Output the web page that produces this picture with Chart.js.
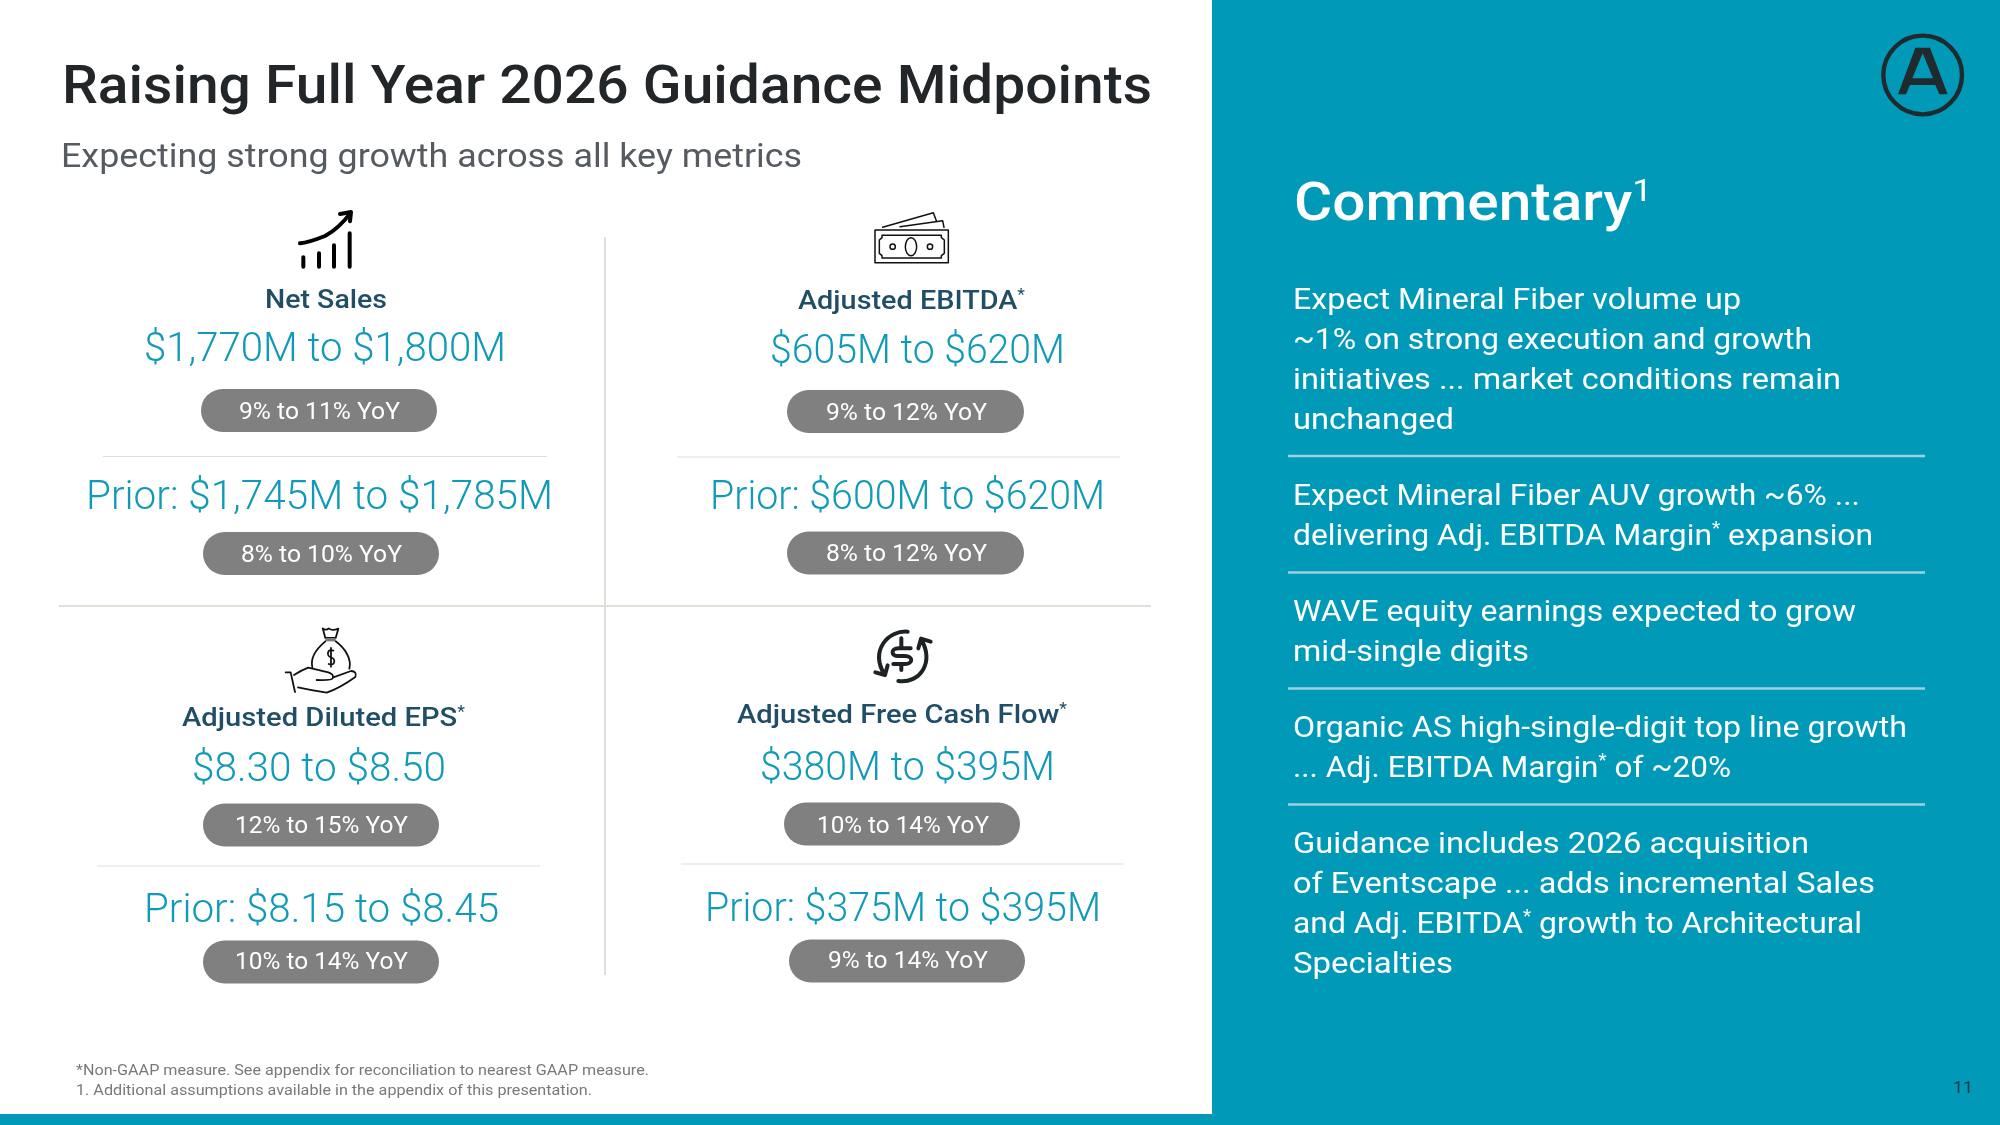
<!DOCTYPE html>
<html lang="en">
<head>
    <meta charset="UTF-8">
    <title>Raising Full Year 2026 Guidance Midpoints</title>
    <script src="https://cdn.jsdelivr.net/npm/chart.js@4"></script>
    <style>
        html, body { margin: 0; padding: 0; background: #fff; }
        canvas { display: block; }
    </style>
</head>
<body>
    <canvas id="slide" width="2000" height="1125"></canvas>

    <script>
        // ^x marks a superscript character
        const slideTitle = 'Raising Full Year 2026 Guidance Midpoints';
        const slideSubtitle = 'Expecting strong growth across all key metrics';
        const metricNames = ['Net Sales', 'Adjusted EBITDA^*', 'Adjusted Diluted EPS^*', 'Adjusted Free Cash Flow^*'];
        const guidanceRanges = ['$1,770M to $1,800M', '$605M to $620M', '$8.30 to $8.50', '$380M to $395M'];
        const guidanceYoY = ['9% to 11% YoY', '9% to 12% YoY', '12% to 15% YoY', '10% to 14% YoY'];
        const priorRanges = ['Prior: $1,745M to $1,785M', 'Prior: $600M to $620M', 'Prior: $8.15 to $8.45', 'Prior: $375M to $395M'];
        const priorYoY = ['8% to 10% YoY', '8% to 12% YoY', '10% to 14% YoY', '9% to 14% YoY'];
        const commentaryTitle = 'Commentary^1';
        const commentaryLines = [
            'Expect Mineral Fiber volume up',
            '~1% on strong execution and growth',
            'initiatives ... market conditions remain',
            'unchanged',
            'Expect Mineral Fiber AUV growth ~6% ...',
            'delivering Adj. EBITDA Margin^* expansion',
            'WAVE equity earnings expected to grow',
            'mid-single digits',
            'Organic AS high-single-digit top line growth',
            '... Adj. EBITDA Margin^* of ~20%',
            'Guidance includes 2026 acquisition',
            'of Eventscape ... adds incremental Sales',
            'and Adj. EBITDA^* growth to Architectural',
            'Specialties'
        ];
        const footnotes = [
            '*Non-GAAP measure. See appendix for reconciliation to nearest GAAP measure.',
            '1. Additional assumptions available in the appendix of this presentation.'
        ];
        const pageNumber = '11';

        // layout, in slide pixels: [left, right, baseline]
        const nameBoxes = [[265, 387, 308], [798, 1025, 309], [182, 465, 726], [737, 1067, 723]];
        const valueBoxes = [[144, 506, 361], [770, 1065, 363], [192, 446, 781], [760, 1055, 780]];
        const yoyBoxes = [[239, 400, 419], [826, 987, 420], [235, 408, 833], [817, 989, 833]];
        const priorBoxes = [[86, 553, 509], [710, 1105, 509], [144, 499, 922], [705, 1101, 921]];
        const priorYoyBoxes = [[241, 402, 562], [826, 987, 561], [235, 408, 969], [828, 988, 968]];
        // [left, right, centre y]
        const pillBoxes = [
            [201, 437, 410.5], [787, 1024, 411.5], [203, 439, 825], [784, 1020, 824],
            [203, 439, 553.5], [787, 1024, 553], [203, 439, 962], [789, 1025, 961]
        ];
        const pillHeight = 43;
        // [x0, y0, x1, y1, width]
        const ruleBoxes = [
            [605, 237, 605, 975, 2], [59, 606, 1151, 606, 2],
            [103, 456.5, 547, 456.5, 1], [677, 457, 1120, 457, 1],
            [97, 866, 540, 866, 1], [681, 864, 1124, 864, 1]
        ];
        const commentaryRuleYs = [456, 572.5, 688.5, 804.5];
        const commentaryBoxes = [
            [1293, 1741, 309], [1293, 1812, 349], [1293, 1841, 389], [1293, 1454, 429],
            [1293, 1860, 505], [1293, 1873, 545],
            [1293, 1856, 621], [1293, 1529, 661],
            [1293, 1907, 737], [1293, 1731, 777],
            [1293, 1809, 853], [1293, 1875, 893], [1293, 1862, 933], [1293, 1453, 973]
        ];

        const TEAL = '#0099b8';
        const VALUE_TEAL = '#109ab7';
        const FONT = 'Roboto, "Open Sans", sans-serif';

        function splitRuns(text) {
            return text.split(/(\^.)/).filter(s => s).map(s =>
                s[0] === '^' ? { text: s[1], sup: true } : { text: s, sup: false });
        }

        // draw a string so that it fills [x0, x1] on the given baseline
        function fitText(ctx, text, box, size, weight, color) {
            const [x0, x1, base] = box;
            const runs = splitRuns(text);
            const mainFont = `${weight} ${size}px ${FONT}`;
            const supFont = `400 ${Math.round(size * 0.6)}px ${FONT}`;
            let total = 0;
            runs.forEach(r => {
                ctx.font = r.sup ? supFont : mainFont;
                total += ctx.measureText(r.text).width;
            });
            ctx.save();
            ctx.translate(x0, base);
            ctx.scale((x1 - x0) / total, 1);
            ctx.fillStyle = color;
            ctx.textAlign = 'left';
            ctx.textBaseline = 'alphabetic';
            let x = 0;
            runs.forEach(r => {
                ctx.font = r.sup ? supFont : mainFont;
                ctx.fillText(r.text, x, r.sup ? -size * 0.36 : 0);
                x += ctx.measureText(r.text).width;
            });
            ctx.restore();
        }

        // icons are traced at 3x around their crop origin
        function icon(ctx, ox, oy, lineWidth, color, draw) {
            ctx.save();
            ctx.translate(ox, oy);
            ctx.scale(1 / 3, 1 / 3);
            ctx.lineWidth = lineWidth * 3;
            ctx.strokeStyle = color;
            ctx.fillStyle = color;
            ctx.lineCap = 'round';
            ctx.lineJoin = 'round';
            draw();
            ctx.restore();
        }

        function strokePath(ctx, d) {
            ctx.stroke(new Path2D(d));
        }

        function drawIcons(ctx) {
            // rising bars
            icon(ctx, 270, 200, 4, '#000', () => {
                strokePath(ctx, 'M100,172 V200 M147,160 V200 M192,136 V200 M239,100 V200');
                strokePath(ctx, 'M90,130 C115,128 140,118 165,108 C195,92 222,65 243,37 M210,42 L243,36 L240,64');
            });
            // bank notes
            icon(ctx, 860, 200, 1.5, '#111', () => {
                strokePath(ctx, 'M45,90 H265 V188 H45 Z');
                strokePath(ctx, 'M66,106 H244 L244,113 L253,120 V160 L244,167 V174 H66 V167 L58,160 V120 L66,113 Z');
                strokePath(ctx, 'M68,82 L220,38 L229,62 M120,80 L248,62 L252,82');
                ctx.beginPath(); ctx.ellipse(153, 140, 17, 27, 0, 0, 7); ctx.stroke();
                ctx.beginPath(); ctx.arc(98, 140, 8, 0, 7); ctx.stroke();
                ctx.beginPath(); ctx.arc(210, 140, 8, 0, 7); ctx.stroke();
            });
            // money bag in a hand
            icon(ctx, 270, 620, 1.8, '#111', () => {
                strokePath(ctx, 'M166,54 L158,25 Q168,33 176,25 Q186,34 205,26 L197,54 Z');
                ctx.fillStyle = '#777';
                ctx.fillRect(166, 54, 31, 10);
                strokePath(ctx, 'M166,64 C142,84 120,112 127,142 M197,64 C224,84 246,116 238,146');
                strokePath(ctx, 'M190,92 C172,84 168,108 183,112 C198,116 196,140 176,132 M183,84 V140');
                strokePath(ctx, 'M72,165 Q95,150 115,143 Q145,150 175,157 Q193,163 188,175 Q186,182 140,180');
                strokePath(ctx, 'M190,172 L243,153 Q262,154 256,171 Q210,204 170,218 Q130,212 84,202');
                strokePath(ctx, 'M47,157 L62,157 L75,216');
            });
            // dollar in a cycle
            icon(ctx, 860, 620, 4, '#1d2225', () => {
                strokePath(ctx, 'M143,35 C85,30 30,90 73,163 M46,157 L75,165 L83,136');
                strokePath(ctx, 'M115,183 C180,192 225,125 183,58 M175,85 L183,56 L212,65');
                strokePath(ctx, 'M152,85 H115 C92,85 92,108 115,108 H135 C160,108 160,132 135,132 H100 M124,55 V85 M124,132 V150');
            });
            // logo
            icon(ctx, 1840, 10, 4.4, '#1f2a2e', () => {
                ctx.beginPath(); ctx.arc(248, 195, 118, 0, 7); ctx.stroke();
                ctx.fill(new Path2D('M226,113 L270,113 L323,253 L298,253 L286,225 L210,225 L198,253 L174,253 Z M217,205 L279,205 L248,130 Z'), 'evenodd');
            });
        }

        const slidePlugin = {
            id: 'slide',
            beforeDatasetsDraw(chart) {
                const ctx = chart.ctx;
                ctx.save();
                ctx.fillStyle = TEAL;
                ctx.fillRect(1212, 0, 788, 1125);
                ctx.fillRect(0, 1114, 2000, 11);
                ctx.restore();
            },
            afterDatasetsDraw(chart) {
                const ctx = chart.ctx;
                ctx.save();
                fitText(ctx, slideTitle, [62, 1152, 103], 54, 500, '#222629');
                fitText(ctx, slideSubtitle, [61, 802, 167], 34, 400, '#555b60');
                metricNames.forEach((name, i) => {
                    fitText(ctx, name, nameBoxes[i], 26, 500, '#1f4e66');
                    fitText(ctx, guidanceRanges[i], valueBoxes[i], 40, 300, VALUE_TEAL);
                    fitText(ctx, guidanceYoY[i], yoyBoxes[i], 23, 400, '#fff');
                    fitText(ctx, priorRanges[i], priorBoxes[i], 40, 300, VALUE_TEAL);
                    fitText(ctx, priorYoY[i], priorYoyBoxes[i], 23, 400, '#fff');
                });
                fitText(ctx, commentaryTitle, [1294, 1652, 220], 53, 500, '#fff');
                commentaryLines.forEach((line, i) => {
                    fitText(ctx, line, commentaryBoxes[i], 30, 400, '#fff');
                });
                fitText(ctx, footnotes[0], [76, 649, 1075], 15.5, 400, '#77797b');
                fitText(ctx, footnotes[1], [76, 592, 1095], 15.5, 400, '#77797b');
                fitText(ctx, pageNumber, [1953, 1973, 1093], 16, 400, '#16384a');
                drawIcons(ctx);
                ctx.restore();
            }
        };

        function segment(x0, y0, x1, y1, width, color, cap) {
            return {
                data: [{ x: x0, y: y0 }, { x: x1, y: y1 }],
                showLine: true,
                borderColor: color,
                borderWidth: width,
                borderCapStyle: cap,
                pointRadius: 0,
                clip: false
            };
        }

        const datasets = [];
        ruleBoxes.forEach(r => datasets.push(segment(r[0], r[1], r[2], r[3], r[4], '#e2dfd9', 'butt')));
        commentaryRuleYs.forEach(y => datasets.push(segment(1288, y, 1925, y, 2.5, '#9fd2df', 'butt')));
        pillBoxes.forEach(p => datasets.push(segment(p[0] + pillHeight / 2, p[2], p[1] - pillHeight / 2, p[2], pillHeight, '#808080', 'round')));

        new Chart(document.getElementById('slide').getContext('2d'), {
            type: 'scatter',
            data: { datasets },
            options: {
                responsive: false,
                animation: false,
                devicePixelRatio: 1,
                layout: { padding: 0 },
                plugins: { legend: { display: false }, tooltip: { enabled: false } },
                scales: {
                    x: { type: 'linear', min: 0, max: 2000, display: false },
                    y: { type: 'linear', min: 0, max: 1125, reverse: true, display: false }
                }
            },
            plugins: [slidePlugin]
        });
    </script>
</body>
</html>
